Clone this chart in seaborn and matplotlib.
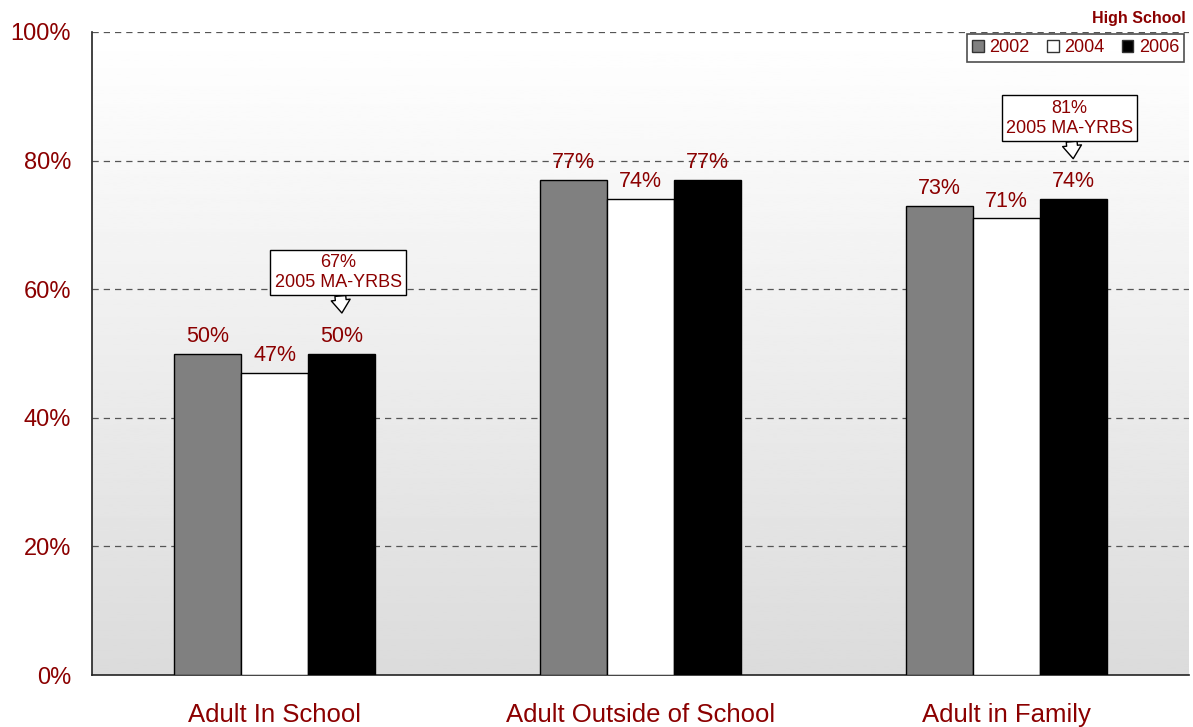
import matplotlib

matplotlib.use("Agg")

import matplotlib.pyplot as plt
import numpy as np
import pandas as pd
import seaborn as sns

CATEGORIES = ["Adult In School", "Adult Outside of School", "Adult in Family"]
YEARS = ["2002", "2004", "2006"]
VALUES_2002 = [50, 77, 73]
VALUES_2004 = [47, 74, 71]
VALUES_2006 = [50, 77, 74]
MA_YRBS = [67, None, 81]

RED = "#8b0000"
PALETTE = {"2002": "#808080", "2004": "#ffffff", "2006": "#000000"}


def main() -> None:
    sns.set_theme(style="white")
    plt.rcParams["font.family"] = ["Liberation Sans", "DejaVu Sans"]

    df = pd.DataFrame(
        {
            "category": CATEGORIES * 3,
            "year": [y for y in YEARS for _ in CATEGORIES],
            "value": VALUES_2002 + VALUES_2004 + VALUES_2006,
        }
    )

    fig = plt.figure(figsize=(11.93, 7.27), dpi=100)
    ax = fig.add_axes([92 / 1193, 1 - 675 / 727, 1097 / 1193, 643 / 727])

    sns.barplot(
        data=df, x="category", y="value", hue="year",
        order=CATEGORIES, hue_order=YEARS, palette=PALETTE,
        width=0.55, edgecolor="black", linewidth=1.0, saturation=1,
        errorbar=None, ax=ax, zorder=3,
    )

    ax.set_xlim(-0.5, 2.5)
    ax.set_ylim(0, 100)

    # gradient background
    grad = np.linspace(0.86, 1.0, 256).reshape(-1, 1)
    ax.imshow(grad, cmap="gray", vmin=0, vmax=1, aspect="auto",
              extent=(-0.5, 2.5, 0, 100), origin="lower", zorder=0)

    ax.set_yticks(range(0, 101, 20))
    ax.set_yticklabels([f"{v}%" for v in range(0, 101, 20)])
    ax.tick_params(axis="y", colors=RED, labelsize=17, length=0, pad=15)
    ax.tick_params(axis="x", colors=RED, labelsize=18.5, length=0, pad=20)
    for v in range(20, 101, 20):
        ax.axhline(v, color="#555555", linestyle=(0, (5, 4)), linewidth=0.9, zorder=1)

    ax.set_xlabel("")
    ax.set_ylabel("")
    for side in ["top", "right"]:
        ax.spines[side].set_visible(False)
    for side in ["left", "bottom"]:
        ax.spines[side].set_color("#222222")
        ax.spines[side].set_linewidth(1.2)

    for container in ax.containers:
        ax.bar_label(container, labels=[f"{int(b.get_height())}%" for b in container],
                     padding=5, fontsize=15.5, color=RED)

    # callouts for 2005 MA-YRBS
    last = ax.containers[2]
    for bar, ref in zip(last, MA_YRBS):
        if ref is None:
            continue
        x = bar.get_x() + bar.get_width() / 2
        top = bar.get_height()
        ax.annotate(
            f"{ref}%\n2005 MA-YRBS",
            xy=(x, top + 6.3), xytext=(x - 0.01, top + 12.6),
            ha="center", va="center", fontsize=13, color=RED, linespacing=1.25,
            bbox=dict(boxstyle="square,pad=0.24", fc="white", ec="black", lw=1.0),
            arrowprops=dict(arrowstyle="simple,head_length=0.72,head_width=1.05,tail_width=0.6",
                            fc="white", ec="black", lw=1.0, shrinkA=0, shrinkB=0),
            zorder=5,
        )

    leg = ax.legend(loc="upper right", bbox_to_anchor=(0.9975, 1.0), ncol=3,
                    frameon=True, fontsize=13, handlelength=0.65, handleheight=0.65,
                    handletextpad=0.3, columnspacing=0.95, borderpad=0.3,
                    borderaxespad=0.1, fancybox=False)
    leg.get_frame().set_edgecolor("#222222")
    leg.get_frame().set_linewidth(1.2)
    for text in leg.get_texts():
        text.set_color(RED)
    for h in leg.legend_handles:
        h.set_edgecolor("#333333")
    leg.set_zorder(6)

    fig.text(1186 / 1193, 1 - 18 / 727, "High School", ha="right", va="center",
             fontsize=11.5, fontweight="bold", color=RED)

    fig.savefig("out.png", dpi=100, facecolor="white")
    plt.close(fig)


if __name__ == "__main__":
    main()
